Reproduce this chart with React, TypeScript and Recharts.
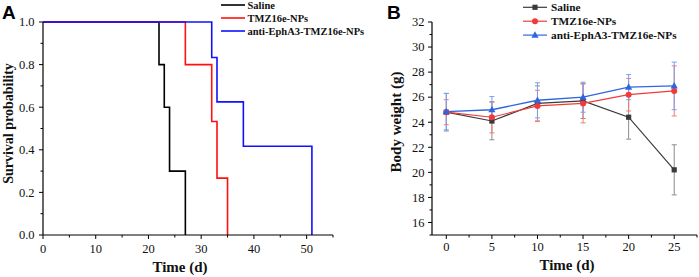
import React from 'react';
import { LineChart, Line, XAxis, YAxis, ErrorBar } from 'recharts';

// ---------- Panel A: survival ----------
const seriesNames = ['Saline', 'TMZ16e-NPs', 'anti-EphA3-TMZ16e-NPs'];

const salineDays = [0, 22, 23, 24, 27];
const salineSurvival = [1, 0.8, 0.6, 0.3, 0];
const tmzDays = [0, 27, 32, 33, 35];
const tmzSurvival = [1, 0.8, 0.533, 0.267, 0];
const antiDays = [0, 32, 33, 38, 51];
const antiSurvival = [1, 0.833, 0.625, 0.417, 0];

const survivalXTicks = [0, 5, 10, 15, 20, 25, 30, 35, 40, 45, 50, 55];
const survivalXLabels = [0, 10, 20, 30, 40, 50];
const survivalYTicks = [0, 0.1, 0.2, 0.3, 0.4, 0.5, 0.6, 0.7, 0.8, 0.9, 1.0];
const survivalYLabels = [0, 0.2, 0.4, 0.6, 0.8, 1.0];

// ---------- Panel B: body weight ----------
const weightDays = [0, 5, 10, 15, 20, 25];
const salineWeight = [24.8, 24.1, 25.5, 25.7, 24.4, 20.2];
const salineWeightSd = [1.5, 1.5, 1.4, 1.4, 1.75, 2.0];
const tmzWeight = [24.8, 24.4, 25.3, 25.5, 26.2, 26.5];
const tmzWeightSd = [1.0, 1.25, 1.25, 1.55, 1.3, 2.0];
const antiWeight = [24.85, 25.0, 25.75, 26.0, 26.8, 26.9];
const antiWeightSd = [1.45, 1.05, 1.4, 1.2, 1.0, 1.9];

const weightXTicks = [0, 2.5, 5, 7.5, 10, 12.5, 15, 17.5, 20, 22.5, 25, 27.5];
const weightXLabels = [0, 5, 10, 15, 20, 25];
const weightYTicks = [15, 16, 17, 18, 19, 20, 21, 22, 23, 24, 25, 26, 27, 28, 29, 30, 31, 32];
const weightYLabels = [16, 18, 20, 22, 24, 26, 28, 30, 32];

const salineSurvData = salineDays.map((t, i) => ({ t, p: salineSurvival[i] }));
const tmzSurvData = tmzDays.map((t, i) => ({ t, p: tmzSurvival[i] }));
const antiSurvData = antiDays.map((t, i) => ({ t, p: antiSurvival[i] }));

const weightRows = weightDays.map((d, i) => ({
  d,
  saline: salineWeight[i],
  salineSd: salineWeightSd[i],
  tmz: tmzWeight[i],
  tmzSd: tmzWeightSd[i],
  anti: antiWeight[i],
  antiSd: antiWeightSd[i],
}));

const SERIF = '"Liberation Serif", "Times New Roman", serif';
const SANS = '"Liberation Sans", Arial, sans-serif';

const near = (a: number, list: number[]) => list.some((v) => Math.abs(v - a) < 1e-6);

function makeXTick(labels: number[], dy: number, fmt: (v: number) => string) {
  return (props: any) => {
    const { x, y, payload } = props;
    const v = payload.value as number;
    const major = near(v, labels);
    return (
      <g>
        <line x1={x} y1={y} x2={x} y2={y + (major ? 4 : 2.5)} stroke="#000" strokeWidth={1} />
        {major && (
          <text x={x} y={y + dy} textAnchor="middle" fontFamily={SERIF} fontSize={12.5} fill="#111">
            {fmt(v)}
          </text>
        )}
      </g>
    );
  };
}

function makeYTick(labels: number[], gap: number, fmt: (v: number) => string) {
  return (props: any) => {
    const { x, y, payload } = props;
    const v = payload.value as number;
    const major = near(v, labels);
    return (
      <g>
        <line x1={x - (major ? 4 : 2.5)} y1={y} x2={x} y2={y} stroke="#000" strokeWidth={1} />
        {major && (
          <text x={x - gap} y={y + 4.3} textAnchor="end" fontFamily={SERIF} fontSize={12.5} fill="#111">
            {fmt(v)}
          </text>
        )}
      </g>
    );
  };
}

const SquareDot = (props: any) => {
  const { cx, cy } = props;
  if (cx == null || cy == null) return null;
  return <rect x={cx - 2.6} y={cy - 2.6} width={5.2} height={5.2} fill="#3a3a3a" />;
};
const CircleDot = (props: any) => {
  const { cx, cy } = props;
  if (cx == null || cy == null) return null;
  return <circle cx={cx} cy={cy} r={3} fill="#f03a3a" />;
};
const TriDot = (props: any) => {
  const { cx, cy } = props;
  if (cx == null || cy == null) return null;
  return <polygon points={`${cx},${cy - 3.8} ${cx + 3.6},${cy + 2.6} ${cx - 3.6},${cy + 2.6}`} fill="#2f66e0" />;
};

const surviveColors = ['#000000', '#ff1010', '#1010ff'];
const weightColors = ['#3a3a3a', '#f03a3a', '#2f66e0'];

export default function App() {
  return (
    <div style={{ position: 'absolute', left: 0, top: 0, width: 699, height: 277, background: '#fff', overflow: 'hidden' }}>
      <div style={{ position: 'absolute', left: 0, top: 0 }}>
        <LineChart width={350} height={277} margin={{ top: 22, right: 17, bottom: 12, left: 0 }}>
          <XAxis
            dataKey="t"
            type="number"
            domain={[0, 55]}
            ticks={survivalXTicks}
            interval={0}
            tickSize={0}
            tickMargin={0}
            tickLine={false}
            height={30}
            axisLine={{ stroke: '#000', strokeWidth: 1.2 }}
            tick={makeXTick(survivalXLabels, 17.5, (v) => String(v))}
          />
          <YAxis
            type="number"
            domain={[0, 1]}
            ticks={survivalYTicks}
            interval={0}
            tickSize={0}
            tickMargin={0}
            tickLine={false}
            width={43}
            axisLine={{ stroke: '#000', strokeWidth: 1.2 }}
            tick={makeYTick(survivalYLabels, 8.5, (v) => v.toFixed(1))}
          />
          <Line data={salineSurvData} dataKey="p" type="stepAfter" stroke={surviveColors[0]} strokeWidth={1.6} dot={false} isAnimationActive={false} />
          <Line data={tmzSurvData} dataKey="p" type="stepAfter" stroke={surviveColors[1]} strokeWidth={1.6} dot={false} isAnimationActive={false} />
          <Line data={antiSurvData} dataKey="p" type="stepAfter" stroke={surviveColors[2]} strokeWidth={1.6} dot={false} isAnimationActive={false} />
        </LineChart>
      </div>

      <div style={{ position: 'absolute', left: 350, top: 0 }}>
        <LineChart width={349} height={277} data={weightRows} margin={{ top: 22, right: 2, bottom: 12, left: 0 }}>
          <XAxis
            dataKey="d"
            type="number"
            domain={[-1.57, 27.5]}
            ticks={weightXTicks}
            interval={0}
            tickSize={0}
            tickMargin={0}
            tickLine={false}
            height={30}
            axisLine={{ stroke: '#000', strokeWidth: 1.2 }}
            tick={makeXTick(weightXLabels, 15.5, (v) => String(v))}
          />
          <YAxis
            type="number"
            domain={[15, 32]}
            ticks={weightYTicks}
            interval={0}
            tickSize={0}
            tickMargin={0}
            tickLine={false}
            width={82}
            axisLine={{ stroke: '#000', strokeWidth: 1.2 }}
            tick={makeYTick(weightYLabels, 7.5, (v) => String(v))}
          />
          <Line dataKey="saline" type="linear" stroke={weightColors[0]} strokeWidth={1.2} dot={<SquareDot />} isAnimationActive={false}>
            <ErrorBar dataKey="salineSd" direction="y" width={2.5} stroke="#8c8c8c" strokeWidth={1} />
          </Line>
          <Line dataKey="tmz" type="linear" stroke={weightColors[1]} strokeWidth={1.2} dot={<CircleDot />} isAnimationActive={false}>
            <ErrorBar dataKey="tmzSd" direction="y" width={2.5} stroke="#f27a7a" strokeWidth={1} />
          </Line>
          <Line dataKey="anti" type="linear" stroke={weightColors[2]} strokeWidth={1.4} dot={<TriDot />} isAnimationActive={false}>
            <ErrorBar dataKey="antiSd" direction="y" width={2.5} stroke="#76a2f0" strokeWidth={1} />
          </Line>
        </LineChart>
      </div>

      <svg width={699} height={277} style={{ position: 'absolute', left: 0, top: 0, pointerEvents: 'none' }}>
        {/* panel letters */}
        <text x={2} y={18.5} fontFamily={SANS} fontWeight="bold" fontSize={19} fill="#000">A</text>
        <text x={387} y={18.5} fontFamily={SANS} fontWeight="bold" fontSize={19} fill="#000">B</text>

        {/* axis titles A */}
        <text x={180} y={271.5} textAnchor="middle" fontFamily={SERIF} fontWeight="bold" fontSize={15} fill="#111">Time (d)</text>
        <text transform="translate(12.5,123.5) rotate(-90)" textAnchor="middle" fontFamily={SERIF} fontWeight="bold" fontSize={14} fill="#111">Survival probability</text>

        {/* axis titles B */}
        <text x={567} y={269.5} textAnchor="middle" fontFamily={SERIF} fontWeight="bold" fontSize={15} fill="#111">Time (d)</text>
        <text transform="translate(400.5,122) rotate(-90)" textAnchor="middle" fontFamily={SERIF} fontWeight="bold" fontSize={15} fill="#111">Body weight (g)</text>

        {/* legend A */}
        {seriesNames.map((n, i) => (
          <g key={'la' + n}>
            <line x1={221} x2={245} y1={5 + i * 13} y2={5 + i * 13} stroke={surviveColors[i]} strokeWidth={1.6} />
            <text x={247.5} y={8.7 + i * 13} fontFamily={SERIF} fontWeight="bold" fontSize={10.5} fill="#111">{n}</text>
          </g>
        ))}

        {/* legend B */}
        {seriesNames.map((n, i) => {
          const y = 7.3 + i * 13.9;
          const cx = 535;
          return (
            <g key={'lb' + n}>
              <line x1={523} x2={547} y1={y} y2={y} stroke={weightColors[i]} strokeWidth={1.2} />
              {i === 0 && <rect x={cx - 2.6} y={y - 2.6} width={5.2} height={5.2} fill="#3a3a3a" />}
              {i === 1 && <circle cx={cx} cy={y} r={3} fill="#f03a3a" />}
              {i === 2 && <polygon points={`${cx},${y - 3.8} ${cx + 3.6},${y + 2.6} ${cx - 3.6},${y + 2.6}`} fill="#2f66e0" />}
              <text x={551} y={y + 4} fontFamily={SERIF} fontWeight="bold" fontSize={11.3} fill="#111">{n}</text>
            </g>
          );
        })}
      </svg>
    </div>
  );
}
